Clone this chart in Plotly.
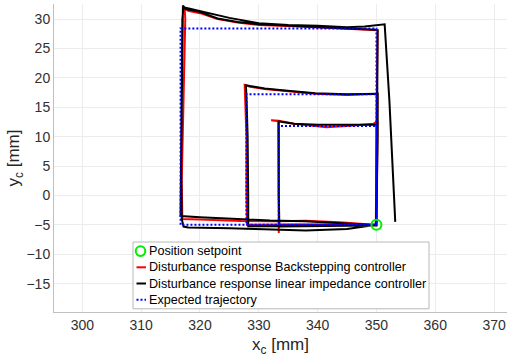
import plotly.graph_objects as go

# Position setpoint [mm]
setpoint_x = [350.0]
setpoint_y = [-5.0]

# Expected (reference) trajectory: three nested squares sharing the setpoint corner
expected_x = [350.0, 316.7, 316.7, 350.0, 350.0, 327.9, 327.9, 350.0, 350.0,
              333.4, 333.4, 350.0, 350.0]
expected_y = [-5.0, -5.0, 28.4, 28.4, -5.0, -5.0, 17.2, 17.2, -5.0,
              -5.0, 11.8, 11.8, -5.0]

# Disturbance response with the backstepping controller
backstepping_x = [350.0, 349.0, 343.7, 338.0, 333.0, 327.0, 320.0, 317.0,
                  316.9, 317.2, 317.5, 317.4,
                  318.0, 320.0, 323.0, 326.4, 330.0, 335.0, 340.0, 345.0, 350.2,
                  350.1, 350.0, 349.9,
                  345.0, 335.0, 328.0,
                  327.9, 327.9, 327.6,
                  328.5, 331.0, 334.0, 339.6, 345.0, 350.2,
                  350.0, 350.0,
                  345.0, 340.0, 333.4, 333.4,
                  333.4, 333.4, 333.3, 332.1,
                  333.4, 336.0, 341.5, 345.0, 349.5, 350.2,
                  350.1, 350.0]
backstepping_y = [-5.0, -4.95, -4.55, -4.3, -4.4, -4.35, -4.1, -4.0,
                  2.5, 15.0, 30.0, 31.8,
                  31.4, 31.0, 30.0, 29.4, 29.0, 28.8, 28.6, 28.3, 28.1,
                  20.0, 10.0, -5.0,
                  -4.9, -4.9, -5.0,
                  0.0, 10.0, 18.8,
                  18.5, 18.1, 17.8, 17.3, 17.1, 17.3,
                  5.0, -5.0,
                  -4.95, -4.95, -5.0, -6.4,
                  0.0, 10.0, 12.6, 12.8,
                  12.7, 12.2, 11.6, 11.8, 12.2, 12.7,
                  5.0, -5.0]

# Disturbance response with the linear impedance controller
impedance_x = [350.0, 345.0, 338.0, 332.0, 325.0, 318.0, 317.2,
               316.9, 316.8, 316.9, 317.0, 317.1,
               317.6, 319.7, 323.0, 326.4, 330.0, 335.0, 340.0, 345.0, 349.8, 350.2,
               350.2, 350.1, 350.0, 349.9,
               345.0, 335.0, 328.2,
               328.2, 328.1, 327.9, 327.8,
               328.5, 331.0, 334.0, 339.6, 345.0, 349.8, 350.2,
               350.2, 350.1, 350.0,
               345.0, 340.0, 333.5,
               333.4, 333.4, 333.4,
               334.0, 336.0, 340.0, 345.0, 349.8, 350.2,
               350.1, 350.0,
               348.8, 343.0, 337.8, 331.9, 325.0, 320.0, 316.7,
               316.8, 316.9, 317.0, 317.2,
               320.0, 325.0, 330.0, 335.0, 340.0, 345.0, 348.0, 351.4,
               352.2, 352.9, 353.2]
impedance_y = [-5.0, -5.7, -5.95, -5.75, -5.6, -5.45, -5.3,
               -4.0, 5.0, 15.0, 25.0, 32.3,
               31.7, 31.3, 30.1, 29.5, 29.1, 28.9, 28.7, 28.4, 28.2, 28.1,
               20.0, 10.0, 0.0, -5.0,
               -5.1, -5.2, -5.25,
               0.0, 10.0, 17.0, 18.75,
               18.6, 18.2, 17.9, 17.4, 17.2, 17.2, 17.3,
               10.0, 0.0, -5.1,
               -5.15, -5.2, -5.3,
               0.0, 10.0, 12.6,
               12.5, 12.2, 12.0, 11.95, 11.9, 12.0,
               5.0, -5.0,
               -5.0, -4.7, -4.4, -4.27, -4.0, -3.7, -3.5,
               5.0, 20.0, 30.0, 32.0,
               31.4, 30.2, 29.3, 29.0, 28.85, 28.6, 28.75, 29.1,
               16.2, 2.6, -4.5]

x_ticks = [300, 310, 320, 330, 340, 350, 360, 370]
y_ticks = [-15, -10, -5, 0, 5, 10, 15, 20, 25, 30]

# Legend entries (label, colour, line dash; None draws the setpoint circle)
legend_labels = ["Position setpoint",
                 "Disturbance response Backstepping controller",
                 "Disturbance response linear impedance controller",
                 "Expected trajectory"]
legend_colors = ["#00ee00", "#ff0000", "#000000", "#0000ff"]
legend_dashes = [None, "solid", "solid", "2px,2px"]

# Figure geometry in pixels
W, H = 507, 362
M_L, M_R, M_T, M_B = 54, 0, 4, 50
PW, PH = W - M_L - M_R, H - M_T - M_B


def px_to_paper(px, py):
    return (px - M_L) / PW, (H - M_B - py) / PH


fig = go.Figure()
fig.add_trace(go.Scatter(
    x=backstepping_x, y=backstepping_y, mode="lines",
    line=dict(color=legend_colors[1], width=2),
    name=legend_labels[1], showlegend=False))
fig.add_trace(go.Scatter(
    x=impedance_x, y=impedance_y, mode="lines",
    line=dict(color=legend_colors[2], width=2),
    name=legend_labels[2], showlegend=False))
fig.add_trace(go.Scatter(
    x=expected_x, y=expected_y, mode="lines",
    line=dict(color=legend_colors[3], width=2, dash=legend_dashes[3]),
    name=legend_labels[3], showlegend=False))
fig.add_trace(go.Scatter(
    x=setpoint_x, y=setpoint_y, mode="markers",
    marker=dict(symbol="circle-open", size=10, color=legend_colors[0],
                line=dict(width=2, color=legend_colors[0])),
    name=legend_labels[0], showlegend=False))

# Compact boxed legend in the lower part of the axes
box_left, box_right, box_top, row_h, pad = 133, 429, 242, 16.2, 1.0
shapes, annotations = [], []
x0, y0 = px_to_paper(box_left, box_top)
x1, y1 = px_to_paper(box_right, box_top + 2 * pad + row_h * len(legend_labels))
shapes.append(dict(type="rect", xref="paper", yref="paper", x0=x0, x1=x1,
                   y0=y1, y1=y0, line=dict(color="#b8b8b8", width=1),
                   fillcolor="white", layer="above"))
for i, (lab, col, dash) in enumerate(zip(legend_labels, legend_colors, legend_dashes)):
    cy = box_top + pad + row_h * (i + 0.5)
    if dash is None:
        cx, cyp = px_to_paper(140.5, cy)
        shapes.append(dict(type="circle", xref="paper", yref="paper",
                           xsizemode="pixel", ysizemode="pixel",
                           xanchor=cx, yanchor=cyp, x0=-4.8, x1=4.8,
                           y0=-4.8, y1=4.8, line=dict(color=col, width=2),
                           layer="above"))
    else:
        lx0, ly = px_to_paper(136.5, cy)
        lx1, _ = px_to_paper(146, cy)
        shapes.append(dict(type="line", xref="paper", yref="paper",
                           x0=lx0, x1=lx1, y0=ly, y1=ly,
                           line=dict(color=col, width=2, dash=dash),
                           layer="above"))
    tx, ty = px_to_paper(146.5, cy)
    annotations.append(dict(text=lab, xref="paper", yref="paper", x=tx, y=ty,
                            xanchor="left", yanchor="middle", showarrow=False,
                            font=dict(size=12.6, color="#000000")))

axis_font = dict(family="Liberation Sans, Arial, sans-serif", size=14, color="#303030")
fig.update_layout(
    width=W, height=H,
    margin=dict(l=M_L, r=M_R, t=M_T, b=M_B),
    paper_bgcolor="white", plot_bgcolor="white",
    font=dict(family="Liberation Sans, Arial, sans-serif", color="#262626"),
    showlegend=False,
    shapes=shapes, annotations=annotations,
    xaxis=dict(range=[295.18, 372.2], tickvals=x_ticks, showgrid=True,
               gridcolor="#ececec", zeroline=False, showline=True,
               linecolor="#c0c0c0", linewidth=1, tickfont=axis_font,
               ticks="", title=dict(text="x<sub>c</sub> [mm]",
                                    font=dict(size=17, color="#262626"),
                                    standoff=6)),
    yaxis=dict(range=[-19.83, 32.56], tickvals=y_ticks, showgrid=True,
               gridcolor="#ececec", zeroline=False, showline=True,
               linecolor="#c0c0c0", linewidth=1, tickfont=axis_font,
               ticks="", title=dict(text="y<sub>c</sub> [mm]",
                                    font=dict(size=17, color="#262626"),
                                    standoff=2)),
)

fig.write_html("out.html")
